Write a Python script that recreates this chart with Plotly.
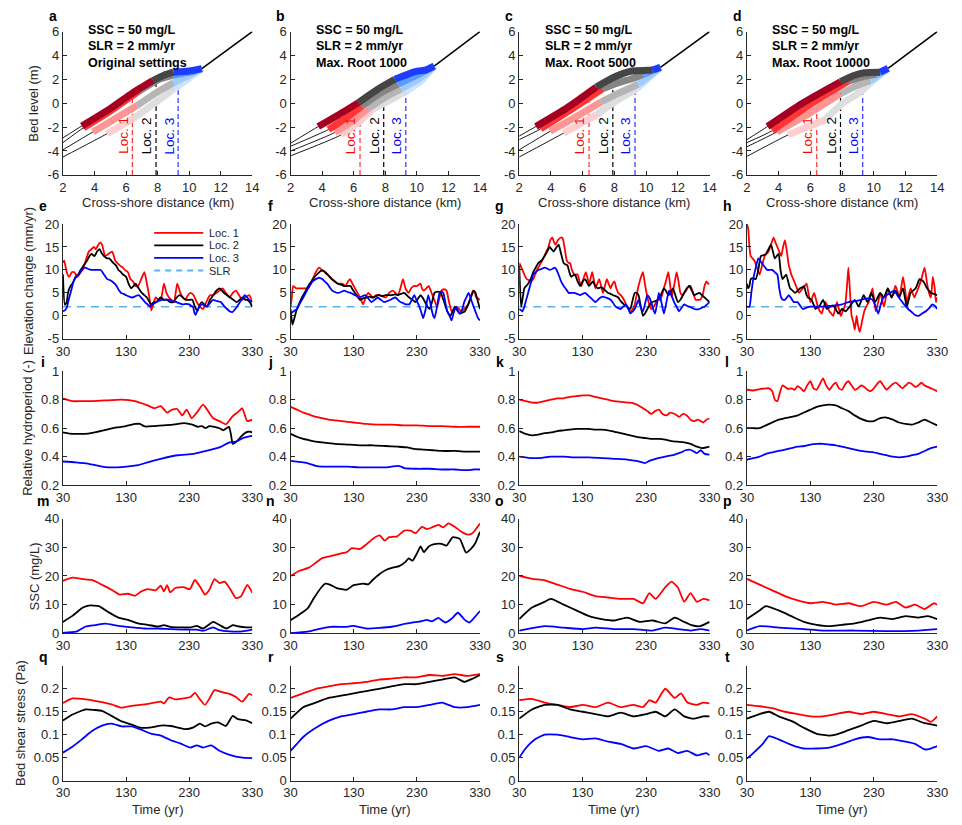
import numpy as np
import plotly.graph_objects as go

W, H = 962, 825
FONT = "Liberation Sans, Arial, sans-serif"
TXT = "#262626"
AX = "#262626"

# axis boxes in pixels (left, right) and (top, bottom)
COLS = [(57, 250), (289, 482), (522, 716), (754, 948)]
ROWS = [(25, 171), (221, 338), (371, 487), (521, 638), (671, 788)]

LETTERS = list("abcdefghijklmnopqrst")
SCENARIOS = ["Original settings", "Max. Root 1000", "Max. Root 5000", "Max. Root 10000"]
HEADER = ["SSC = 50 mg/L", "SLR = 2 mm/yr"]
LOCS = [6.4, 7.9, 9.3]
LOC_LABELS = ["Loc. 1", "Loc. 2", "Loc. 3"]
SLR = 2.0

# ---------------- bed profiles (x km, z m); profile 1 = earliest, 4 = latest
# zones: (low-marsh start, mid start, high start, end)
a_bed_1 = [(2, -4.5), (4.8, -2.55), (6.5, -1.25), (7.7, -0.1), (9.0, 1.15), (10.0, 2.1), (10.8, 2.9)]
a_bed_2 = [(2, -3.9), (3.9, -2.4), (5.3, -1.3), (6.7, -0.2), (8.0, 0.95), (9.0, 1.7), (10.0, 2.35), (10.8, 2.9)]
a_bed_3 = [(2, -3.3), (3.3, -2.05), (5.0, -0.65), (6.85, 1.05), (8.0, 1.95), (9.0, 2.35), (10.0, 2.6), (10.8, 2.9)]
a_bed_4 = [(2, -2.9), (3.2, -1.9), (5.0, -0.45), (6.4, 0.85), (7.7, 1.9), (8.4, 2.35), (9.0, 2.6), (10.0, 2.7), (10.8, 2.9)]
a_zones = [(4.8, 6.5, 9.0, 10.8), (3.9, 6.7, 9.0, 10.8), (3.3, 6.85, 9.0, 10.8), (3.2, 7.7, 9.0, 10.8)]
a_tail = [(10.8, 2.9), (14, 6)]

b_bed_1 = [(2, -4.4), (5.2, -2.65), (6.3, -1.6), (7.2, -0.5), (8.2, 0.2), (9.2, 0.9), (10.3, 1.9), (11.1, 3.1)]
b_bed_2 = [(2, -4.0), (4.8, -2.45), (5.9, -1.5), (6.9, -0.45), (8.0, 0.5), (9.0, 1.2), (10.2, 2.1), (11.1, 3.1)]
b_bed_3 = [(2, -3.6), (4.4, -2.2), (5.5, -1.25), (6.5, -0.25), (7.7, 0.85), (8.8, 1.6), (10.0, 2.35), (11.1, 3.1)]
b_bed_4 = [(2, -3.35), (3.75, -1.95), (5.0, -1.0), (6.3, 0.05), (7.5, 1.15), (8.6, 2.0), (9.9, 2.65), (10.6, 2.8), (11.1, 3.1)]
b_zones = [(5.2, 7.2, 9.2, 11.1), (4.8, 6.9, 9.0, 11.1), (4.4, 6.5, 8.8, 11.1), (3.75, 6.3, 8.6, 11.1)]
b_tail = [(11.1, 3.1), (14, 6)]

c_bed_1 = [(2, -4.5), (4.8, -2.5), (5.8, -1.75), (6.85, -1.0), (8.0, 0.1), (9.1, 0.95), (9.4, 1.2), (10.9, 3.0)]
c_bed_2 = [(2, -3.9), (3.95, -2.35), (5.5, -1.2), (7.15, 0.1), (8.2, 0.8), (9.1, 1.35), (9.5, 1.6), (10.9, 3.0)]
c_bed_3 = [(2, -3.05), (3.35, -2.15), (5.3, -0.5), (7.25, 1.2), (8.2, 1.7), (9.1, 2.05), (9.8, 2.4), (10.9, 3.0)]
c_bed_4 = [(2, -2.75), (3.05, -1.95), (5.0, -0.4), (6.85, 1.35), (8.0, 2.2), (9.1, 2.7), (10.1, 2.75), (10.4, 2.78), (10.9, 3.0)]
c_zones = [(4.8, 6.85, 9.4, 10.9), (3.95, 7.15, 9.5, 10.9), (3.35, 7.25, 9.8, 10.9), (3.05, 6.85, 10.4, 10.9)]
c_tail = [(10.9, 3.0), (14, 6)]

d_bed_1 = [(2, -4.45), (4.6, -2.65), (5.8, -2.0), (6.9, -1.4), (8.0, -0.05), (9.15, 0.95), (9.7, 1.6), (10.9, 2.92)]
d_bed_2 = [(2, -3.65), (3.9, -2.4), (6.0, -0.8), (7.9, 0.8), (8.9, 1.45), (9.8, 1.9), (10.9, 2.92)]
d_bed_3 = [(2, -3.3), (3.6, -2.3), (6.0, -0.1), (8.4, 1.85), (9.4, 2.25), (10.2, 2.45), (10.9, 2.92)]
d_bed_4 = [(2, -3.05), (3.3, -1.95), (5.5, 0.0), (7.9, 1.8), (8.7, 2.3), (9.4, 2.55), (10.4, 2.6), (10.9, 2.92)]
d_zones = [(4.6, 6.9, 9.7, 10.9), (3.9, 7.9, 9.8, 10.9), (3.6, 8.4, 10.2, 10.9), (3.3, 7.9, 10.4, 10.9)]
d_tail = [(10.9, 2.92), (14, 6)]

RED_SHADES = ["#ffcdcd", "#ff9494", "#ff3535", "#a50021"]
GRAY_SHADES = ["#dedede", "#b5b5b5", "#858585", "#454545"]
BLUE_SHADES = ["#cfe5ff", "#9fcbff", "#5a9cff", "#1e3cff"]

# ---------------- elevation change (mm/yr) : (year, value)
e_red = [(30, 11.6), (32, 12), (36, 9.5), (40, 8.5), (44, 9.5), (48, 9.5), (53, 8.5), (58, 9.5), (61, 10), (66, 12), (71, 14), (75, 14.5), (79, 15), (82, 14.5), (86, 15.5), (89, 16), (92, 15.5), (97, 13), (102, 13.5), (108, 14), (113, 12), (120, 11), (125, 10.5), (128, 10), (133, 9.5), (137, 8), (141, 7.5), (145, 6.5), (149, 6.5), (154, 8), (159, 9.5), (163, 7), (167, 4), (170, 1.2), (174, 3), (177, 4), (181, 3.5), (185, 3.5), (190, 7), (194, 5), (198, 4), (202, 3.5), (206, 3), (211, 7), (216, 5), (220, 4), (224, 3.5), (228, 4.5), (232, 5), (237, 4.5), (242, 3), (247, 2), (252, 1.5), (257, 3), (263, 4.5), (268, 4.5), (273, 5), (278, 5.5), (283, 6), (288, 5), (294, 4), (299, 5), (304, 5.5), (309, 4.5), (314, 3.5), (319, 4), (325, 4.5), (330, 3)]
e_black = [(30, 9), (33, 2.4), (36, 3), (38, 5), (42, 6.5), (45, 7), (50, 8.5), (54, 9), (58, 10), (63, 11), (68, 12), (72, 13), (75, 13.5), (80, 13), (84, 14), (88, 14.5), (92, 13.5), (95, 13), (100, 12.5), (103, 12.5), (110, 11.5), (114, 11), (118, 10), (122, 9.5), (125, 9), (130, 8.5), (134, 7), (138, 6), (142, 6.5), (145, 7), (150, 6), (155, 5), (159, 4.5), (163, 4), (167, 3), (170, 2.5), (174, 3), (178, 3), (181, 3.5), (185, 4), (190, 3.5), (195, 3.5), (200, 3), (205, 3), (210, 4), (215, 4.5), (220, 4), (225, 3.5), (230, 3.5), (235, 3.5), (239, 2), (243, 1), (247, 2.5), (250, 3), (254, 2.5), (258, 2), (263, 3.5), (268, 4.5), (273, 5.5), (278, 6), (282, 5.5), (285, 5), (290, 4.5), (295, 4), (300, 3.5), (305, 3), (310, 3.5), (315, 4), (319, 3.5), (322, 3.5), (326, 3), (330, 2)]
e_blue = [(30, 1), (33, 1.2), (36, 1.8), (40, 4), (44, 6), (47, 7.5), (51, 8.5), (55, 9), (60, 10), (65, 10.5), (70, 10.2), (75, 10), (82, 10), (90, 10), (95, 9), (100, 8), (104, 7.8), (108, 7.5), (112, 7), (115, 6.5), (119, 5.5), (122, 5), (126, 4.8), (130, 4.5), (135, 4.2), (140, 4), (145, 4.3), (150, 4.5), (155, 3.8), (160, 3), (164, 2.5), (168, 2), (173, 2.6), (178, 3), (183, 3.3), (188, 3.5), (193, 3.6), (198, 3.5), (204, 3.2), (210, 3), (215, 2.7), (220, 2.5), (225, 2.6), (230, 2.5), (233, 2.2), (236, 2), (238, 0.8), (240, 0.2), (243, 1.2), (246, 2), (250, 2.5), (254, 2.3), (258, 2), (263, 2.8), (268, 3.5), (274, 3.2), (280, 3), (285, 2.2), (290, 1.5), (294, 1), (298, 0.8), (303, 1.5), (308, 2.5), (313, 3.5), (318, 4.5), (322, 4), (325, 3.5), (330, 3)]

f_red = [(30, 2), (32, 4), (34, 6.5), (39, 6), (45, 6), (52, 6), (57, 6), (60, 6.5), (65, 8), (70, 9.5), (75, 10.5), (80, 10), (84, 9.5), (88, 9), (92, 8.5), (96, 8), (100, 7.5), (104, 7), (108, 7), (111, 7), (114, 6.8), (117, 6.5), (121, 7.5), (124, 8), (128, 7), (132, 6), (136, 5), (140, 4), (143, 3), (145, 2.5), (149, 4), (153, 5), (157, 4.5), (161, 4), (166, 4.5), (171, 4.5), (176, 4.2), (181, 4), (186, 5), (192, 5.5), (196, 5), (200, 4.5), (204, 6), (208, 8), (212, 6), (217, 5), (221, 6), (225, 6.5), (230, 6.5), (236, 7), (238, 6), (241, 5.5), (245, 6), (249, 6.5), (252, 5.5), (256, 4), (259, 3), (262, 2), (266, 4), (269, 5.5), (273, 5.8), (277, 5.5), (281, 3), (285, 1), (289, 1.5), (293, 2), (297, 1.5), (300, 1), (305, 1.5), (311, 2.5), (315, 4), (319, 5.5), (322, 5), (324, 4), (327, 3.8), (330, 3.5)]
f_black = [(30, 1.5), (31, 0), (33, -1.9), (36, -0.5), (40, 1.5), (44, 2.8), (48, 4), (53, 5.2), (58, 6.5), (63, 7.5), (68, 8.5), (73, 9.2), (78, 9.8), (82, 9.8), (85, 9.5), (90, 8.8), (95, 8), (100, 7.5), (105, 7), (110, 6.8), (115, 6.5), (120, 6.5), (125, 6.5), (128, 5.8), (132, 5), (136, 4.2), (140, 3.5), (145, 3.8), (150, 4), (155, 4.2), (160, 4), (165, 4.3), (170, 4.5), (175, 4.3), (180, 4.5), (185, 4.5), (190, 4.5), (195, 4.7), (200, 4.5), (205, 4.8), (210, 5), (214, 4.5), (218, 4), (223, 3.5), (228, 3), (232, 3.8), (236, 4.5), (240, 3.8), (243, 3), (247, 2), (250, 1.5), (254, 3), (258, 5), (263, 5.3), (268, 5), (272, 3.5), (277, 1.5), (280, 0.5), (283, 0), (287, 1), (290, 2), (294, 1.2), (298, 0.5), (302, 0.7), (306, 1), (310, 2), (313, 3), (317, 4.5), (320, 5.5), (323, 5), (325, 4), (328, 2.5), (330, 1.5)]
f_blue = [(30, 0.5), (35, 1), (40, 1.5), (45, 2.8), (50, 4), (55, 5.3), (60, 6.5), (65, 7.5), (70, 8), (75, 8.3), (80, 8), (84, 7.5), (88, 7), (92, 6.2), (96, 5.5), (100, 5.2), (105, 5), (110, 5.2), (115, 5.5), (120, 5.2), (125, 5), (128, 4.8), (132, 4.5), (136, 4.2), (140, 4), (144, 4.3), (148, 4.5), (153, 3.8), (158, 3), (163, 3.5), (168, 4), (173, 3.5), (178, 3), (183, 3.2), (188, 3.5), (192, 3.8), (196, 4), (200, 3.5), (204, 3), (208, 2.8), (212, 2.5), (215, 2.5), (218, 2.5), (222, 3.5), (226, 4.5), (230, 3.2), (234, 2), (237, 0.8), (240, -0.5), (244, 1.5), (248, 4.5), (251, 3), (254, 1), (256, 0), (258, -0.5), (262, 2), (266, 5), (269, 5.3), (272, 5), (275, 3), (278, 1), (282, 0), (285, -1), (288, 0.5), (292, 2), (295, 1.2), (298, 0.5), (302, 1.5), (305, 3), (309, 4.2), (312, 5), (316, 3.5), (320, 2), (324, 0.5), (327, -0.5), (330, -1)]

g_red = [(30, 11.5), (32, 11), (35, 10), (38, 9), (42, 8), (45, 7.8), (48, 7.5), (52, 8), (55, 9), (58, 10), (62, 11), (66, 12), (71, 13.5), (76, 15), (79, 16.5), (82, 17), (85, 16), (87, 15.5), (91, 16.5), (95, 17), (98, 17), (100, 16), (103, 13.5), (105, 12), (108, 11.5), (110, 11.5), (113, 10), (117, 9), (120, 9), (122, 9), (125, 7.5), (128, 6.5), (131, 8), (135, 9.5), (138, 8), (140, 7), (143, 8.5), (145, 9.5), (148, 7.5), (150, 6), (153, 7), (156, 8), (159, 6.5), (162, 5), (165, 6.5), (168, 8), (171, 7), (174, 6), (177, 7), (180, 7.5), (183, 6), (186, 5), (190, 4.5), (195, 3.5), (200, 2), (205, 1), (209, 1.5), (212, 2.5), (215, 4.5), (218, 6.5), (222, 8.5), (225, 9.5), (228, 7), (232, 4), (235, 2.5), (238, 1.5), (242, 2), (246, 3), (249, 3.5), (252, 3.5), (255, 4.5), (258, 6), (262, 8), (265, 9.5), (268, 6.5), (270, 4), (274, 6.5), (278, 9.5), (281, 7.5), (284, 5), (287, 4.5), (290, 5), (293, 5.5), (295, 6), (298, 6.5), (300, 6.5), (304, 5), (308, 3.5), (312, 3.5), (315, 3.5), (319, 4.5), (322, 6.5), (325, 7.5), (328, 7), (330, 7)]
g_black = [(30, 11), (31, 7), (33, 2), (35, 3.5), (38, 6), (41, 6.5), (44, 7), (48, 8), (52, 9.5), (56, 10.5), (60, 11.5), (65, 12), (70, 13), (74, 14), (78, 15), (81, 14.5), (84, 14), (88, 14.8), (92, 15.5), (96, 13.5), (100, 11.5), (103, 11.2), (106, 11), (109, 9.5), (112, 8.5), (115, 8.8), (118, 9), (122, 7.5), (126, 6.5), (130, 7.5), (134, 8), (137, 7.2), (140, 6.5), (143, 7), (146, 7.5), (150, 6.5), (154, 6), (158, 6.2), (162, 6), (166, 5.5), (170, 5), (174, 4.8), (178, 4.5), (182, 4.3), (186, 4), (190, 3.2), (195, 2.5), (200, 2), (205, 1.5), (208, 3), (212, 5), (215, 5), (218, 4.5), (221, 2.5), (225, 0), (228, 0.5), (232, 1.5), (236, 2.5), (240, 3), (244, 3.2), (248, 3.5), (253, 4.5), (258, 6), (261, 5.5), (265, 4.5), (268, 5), (272, 6), (276, 4.5), (280, 3), (284, 3.5), (288, 4.5), (290, 5), (294, 6), (298, 6.5), (302, 5.5), (306, 4.5), (310, 4.8), (314, 5), (318, 4.5), (322, 4), (326, 3.5), (330, 3)]
g_blue = [(30, 1.5), (33, 1.2), (35, 1), (38, 2), (40, 3), (43, 4.5), (46, 6), (49, 7.5), (52, 9), (56, 9.5), (60, 10), (65, 10.2), (70, 10.5), (74, 10.3), (78, 10), (82, 10.2), (86, 10.5), (89, 10), (92, 9), (96, 7.5), (100, 6.5), (104, 5.8), (108, 5), (112, 5), (116, 5), (121, 4.8), (126, 4.5), (130, 4.8), (134, 5), (138, 4.5), (142, 4), (146, 3.5), (150, 3), (154, 3.5), (158, 4), (162, 4.2), (166, 4), (170, 3.8), (174, 3.5), (178, 2.8), (182, 2), (186, 1.7), (190, 1.5), (194, 2), (198, 2.5), (202, 1.5), (205, 0.5), (209, 1), (212, 1.5), (215, 2.5), (218, 3.5), (221, 2), (225, 1), (228, 2.5), (232, 4.5), (235, 4), (238, 3), (241, 1.5), (244, 0.5), (247, 2.5), (250, 5), (254, 3), (258, 0.5), (262, 3), (266, 5.5), (270, 4.5), (274, 3), (278, 2), (282, 1), (286, 1.8), (290, 2.5), (294, 2.2), (298, 2), (302, 1.8), (306, 1.5), (310, 1.4), (314, 1.5), (318, 1.8), (322, 2), (326, 2.5), (330, 3)]

h_red = [(30, 20), (32, 19), (34, 15), (36, 13), (39, 12.5), (42, 12), (46, 10.5), (50, 9), (54, 11), (58, 13), (61, 13.5), (64, 14), (68, 15.5), (72, 17), (75, 16), (78, 15), (81, 14), (84, 13), (87, 15), (90, 16.5), (93, 14), (96, 11), (98, 10), (100, 9), (103, 8), (106, 7), (109, 6), (112, 5), (115, 5.5), (118, 6), (121, 6.5), (124, 7), (127, 5), (130, 3), (133, 4), (136, 5), (139, 3.5), (142, 2), (145, 1), (148, 0.5), (151, 2), (154, 3), (157, 2), (160, 1), (163, 0.5), (166, 0), (169, 1.5), (172, 3), (175, 1.5), (178, 0), (181, 1), (185, 2.5), (188, 7), (190, 10.5), (193, 4), (195, 0), (198, -1.5), (200, -3), (202, -1), (203, 0), (205, -2), (208, -3.5), (211, -1.5), (215, 1), (218, 2), (222, 3), (225, 4.5), (228, 6), (231, 3), (233, 1), (237, 3), (240, 5), (243, 3.5), (246, 2), (249, 4), (252, 6), (255, 5), (258, 4), (261, 5), (264, 6.5), (267, 5.5), (270, 4), (273, 6), (276, 8.5), (279, 6), (282, 3), (285, 4.5), (288, 6), (291, 5), (294, 4), (297, 5), (300, 6), (305, 8), (310, 10.5), (314, 7), (317, 5), (320, 4), (323, 8.5), (326, 6), (328, 3), (330, 4)]
h_black = [(30, 7), (32, 6), (34, 6.5), (36, 8), (40, 8.2), (44, 8), (48, 10), (52, 13), (56, 13.2), (60, 13.5), (64, 14.5), (68, 15.5), (71, 14), (74, 12.5), (77, 13), (80, 13.5), (83, 10), (86, 8), (89, 8.5), (92, 9), (95, 7.5), (98, 6), (102, 5.5), (106, 5), (110, 5.5), (114, 6), (117, 6.2), (120, 6.5), (123, 5), (126, 4), (129, 3.8), (132, 3.5), (135, 2.5), (138, 1.5), (141, 1.8), (144, 2), (147, 2.8), (150, 3.5), (153, 2.5), (156, 1.5), (159, 1.8), (162, 2), (165, 2.2), (168, 2), (171, 1.2), (174, 0.5), (177, 1), (180, 1.5), (183, 1.2), (186, 1), (189, 1.5), (192, 2), (196, 2.8), (200, 3.5), (203, 2.8), (206, 2), (210, 3.2), (214, 4.5), (217, 3.8), (220, 3), (223, 4), (226, 5), (229, 4), (232, 3), (236, 4), (240, 5), (243, 4.5), (246, 4), (249, 5), (252, 6), (255, 5), (258, 4), (261, 4.8), (264, 5.5), (267, 4.8), (270, 4), (273, 5), (276, 6), (279, 4), (282, 2), (285, 3.5), (288, 5), (292, 5.5), (296, 6), (299, 7), (302, 8), (305, 7.8), (308, 7.5), (311, 6.8), (314, 6), (317, 5.5), (320, 5), (325, 4.8), (330, 4.5)]
h_blue = [(30, 2), (34, 2), (37, 5), (40, 8), (44, 10.5), (48, 12.5), (52, 11.8), (56, 11), (59, 10.5), (62, 10), (66, 10), (70, 10), (74, 9.5), (78, 9), (81, 6), (84, 4), (87, 3.5), (90, 3.5), (93, 4), (96, 4.5), (100, 3.8), (104, 3), (110, 3), (114, 2.2), (118, 1.5), (124, 1.8), (130, 2), (140, 2), (150, 2), (160, 2.2), (170, 2.3), (180, 2.5), (190, 3), (200, 3.2), (210, 3.5), (220, 3.8), (228, 3.5), (233, 2), (237, 0.5), (241, 2.5), (245, 4), (250, 4.5), (256, 5), (262, 5.5), (267, 4.5), (272, 3.5), (278, 2.5), (284, 1.5), (290, 0.8), (295, 0.2), (300, 0), (306, 0.5), (312, 1), (318, 1.8), (322, 2.5), (326, 2.2), (330, 1.5)]

# ---------------- relative hydroperiod (-)
i_red = [(30, 0.81), (45, 0.79), (60, 0.79), (76, 0.79), (97, 0.795), (123, 0.8), (144, 0.79), (164, 0.76), (175, 0.74), (185, 0.755), (195, 0.71), (203, 0.73), (211, 0.735), (219, 0.69), (226, 0.73), (234, 0.67), (242, 0.71), (252, 0.765), (260, 0.72), (268, 0.67), (278, 0.65), (288, 0.627), (299, 0.685), (309, 0.72), (314, 0.74), (322, 0.65), (330, 0.66)]
i_black = [(30, 0.57), (40, 0.562), (55, 0.56), (70, 0.562), (85, 0.575), (100, 0.59), (115, 0.605), (130, 0.615), (145, 0.63), (152, 0.63), (160, 0.612), (175, 0.615), (190, 0.62), (205, 0.625), (222, 0.635), (235, 0.625), (244, 0.61), (250, 0.615), (256, 0.6), (262, 0.615), (270, 0.61), (278, 0.6), (284, 0.585), (289, 0.6), (293, 0.61), (296, 0.56), (299, 0.49), (303, 0.5), (308, 0.52), (313, 0.545), (318, 0.565), (323, 0.575), (327, 0.575), (330, 0.57)]
i_blue = [(30, 0.366), (50, 0.36), (71, 0.35), (97, 0.327), (123, 0.327), (149, 0.34), (164, 0.36), (185, 0.385), (211, 0.41), (237, 0.42), (257, 0.44), (278, 0.465), (294, 0.5), (304, 0.505), (317, 0.534), (330, 0.546)]

j_red = [(30, 0.75), (40, 0.73), (50, 0.71), (60, 0.695), (70, 0.68), (80, 0.67), (90, 0.66), (100, 0.655), (110, 0.65), (120, 0.645), (130, 0.64), (140, 0.635), (150, 0.63), (170, 0.625), (190, 0.625), (210, 0.62), (230, 0.62), (250, 0.615), (270, 0.615), (290, 0.61), (310, 0.61), (330, 0.61)]
j_black = [(30, 0.56), (40, 0.54), (50, 0.525), (60, 0.515), (70, 0.505), (80, 0.5), (100, 0.49), (120, 0.485), (140, 0.48), (160, 0.48), (180, 0.475), (200, 0.47), (215, 0.465), (225, 0.455), (240, 0.45), (255, 0.445), (270, 0.44), (290, 0.44), (310, 0.435), (330, 0.435)]
j_blue = [(30, 0.37), (40, 0.365), (50, 0.36), (60, 0.35), (70, 0.335), (80, 0.33), (100, 0.33), (120, 0.33), (140, 0.325), (160, 0.325), (180, 0.325), (190, 0.33), (200, 0.335), (205, 0.33), (210, 0.32), (230, 0.315), (250, 0.315), (270, 0.31), (290, 0.31), (310, 0.305), (320, 0.31), (330, 0.31)]

k_red = [(30, 0.8), (40, 0.79), (50, 0.78), (60, 0.78), (70, 0.79), (80, 0.8), (90, 0.81), (100, 0.81), (110, 0.82), (120, 0.825), (130, 0.83), (140, 0.83), (150, 0.82), (160, 0.81), (170, 0.8), (180, 0.79), (190, 0.785), (200, 0.78), (210, 0.775), (218, 0.76), (225, 0.74), (232, 0.72), (238, 0.7), (244, 0.72), (250, 0.73), (256, 0.7), (262, 0.69), (268, 0.71), (275, 0.7), (282, 0.68), (288, 0.7), (294, 0.69), (300, 0.66), (306, 0.65), (312, 0.66), (320, 0.64), (325, 0.66), (330, 0.67)]
k_black = [(30, 0.58), (40, 0.56), (50, 0.55), (60, 0.555), (70, 0.565), (80, 0.57), (90, 0.58), (100, 0.585), (110, 0.59), (120, 0.595), (130, 0.595), (140, 0.595), (150, 0.59), (160, 0.59), (170, 0.585), (180, 0.575), (190, 0.565), (200, 0.555), (210, 0.545), (220, 0.535), (230, 0.53), (240, 0.525), (250, 0.525), (260, 0.52), (270, 0.51), (280, 0.505), (290, 0.5), (300, 0.49), (310, 0.47), (318, 0.46), (325, 0.465), (330, 0.47)]
k_blue = [(30, 0.4), (40, 0.395), (50, 0.39), (60, 0.39), (70, 0.395), (80, 0.4), (100, 0.4), (120, 0.395), (140, 0.395), (160, 0.39), (180, 0.385), (200, 0.38), (215, 0.37), (228, 0.355), (235, 0.37), (245, 0.385), (255, 0.395), (265, 0.405), (275, 0.415), (285, 0.43), (292, 0.445), (298, 0.45), (304, 0.44), (310, 0.425), (316, 0.445), (322, 0.42), (330, 0.415)]

l_red = [(30, 0.87), (40, 0.865), (50, 0.875), (60, 0.88), (65, 0.88), (70, 0.86), (74, 0.8), (78, 0.79), (82, 0.85), (86, 0.9), (90, 0.89), (95, 0.875), (100, 0.88), (105, 0.87), (110, 0.895), (115, 0.88), (120, 0.86), (125, 0.9), (130, 0.93), (135, 0.88), (140, 0.87), (145, 0.91), (150, 0.95), (155, 0.9), (160, 0.87), (165, 0.9), (170, 0.92), (175, 0.88), (180, 0.87), (185, 0.91), (190, 0.93), (195, 0.9), (200, 0.87), (205, 0.88), (210, 0.9), (215, 0.89), (220, 0.87), (225, 0.86), (230, 0.88), (235, 0.91), (240, 0.93), (245, 0.9), (250, 0.87), (255, 0.89), (260, 0.91), (265, 0.92), (270, 0.9), (275, 0.88), (280, 0.9), (285, 0.92), (290, 0.91), (295, 0.89), (300, 0.9), (305, 0.92), (310, 0.9), (315, 0.89), (320, 0.88), (325, 0.87), (330, 0.86)]
l_black = [(30, 0.6), (40, 0.6), (50, 0.6), (60, 0.62), (70, 0.64), (80, 0.66), (90, 0.67), (100, 0.68), (110, 0.69), (120, 0.71), (130, 0.73), (140, 0.75), (150, 0.76), (160, 0.765), (170, 0.76), (180, 0.74), (190, 0.72), (200, 0.69), (210, 0.665), (220, 0.65), (230, 0.65), (240, 0.67), (250, 0.675), (260, 0.66), (270, 0.64), (280, 0.63), (290, 0.625), (300, 0.64), (310, 0.66), (320, 0.64), (330, 0.62)]
l_blue = [(30, 0.38), (40, 0.39), (50, 0.4), (60, 0.42), (70, 0.43), (80, 0.44), (90, 0.45), (100, 0.46), (110, 0.47), (120, 0.475), (130, 0.485), (140, 0.49), (150, 0.49), (160, 0.485), (170, 0.48), (180, 0.47), (190, 0.46), (200, 0.45), (210, 0.44), (220, 0.435), (230, 0.43), (240, 0.42), (250, 0.41), (260, 0.4), (270, 0.395), (280, 0.4), (290, 0.41), (300, 0.42), (310, 0.44), (320, 0.46), (330, 0.47)]

# ---------------- SSC (mg/L)
m_red = [(30, 18.3), (45, 19.4), (61, 18.9), (76, 18.6), (92, 16.9), (107, 15.2), (120, 13.5), (133, 13.8), (144, 13.1), (154, 14.6), (164, 15.4), (177, 15), (185, 16.6), (190, 14.6), (195, 16.8), (200, 14.3), (208, 15.8), (221, 16.1), (231, 15.4), (239, 18.6), (247, 16.3), (255, 13.5), (262, 15.2), (270, 18.9), (278, 17.5), (286, 18), (294, 15.8), (304, 12.3), (312, 12.9), (322, 16.9), (330, 14.1)]
m_black = [(30, 4), (45, 6.1), (61, 8.9), (71, 9.7), (87, 9.5), (102, 7.4), (118, 5.5), (133, 4.7), (149, 3.5), (164, 3), (180, 2.4), (190, 2.9), (200, 2.3), (216, 2.1), (232, 2.1), (242, 2.6), (252, 1.7), (268, 4), (278, 2.9), (289, 1.7), (299, 2.9), (309, 2.4), (320, 2.1), (330, 2.1)]
m_blue = [(30, 0.2), (51, 0.6), (66, 2.4), (82, 2.9), (97, 3.4), (118, 2.6), (139, 2.1), (159, 1.7), (180, 1.7), (200, 1.5), (221, 1.3), (242, 1.3), (252, 0.9), (268, 2.1), (278, 1.1), (294, 0.7), (314, 0.7), (330, 1.3)]

n_red = [(30, 20), (44, 21.8), (59, 22.9), (70, 24.6), (80, 26.2), (93, 26.9), (109, 27.8), (119, 28.3), (127, 29.7), (140, 29.4), (150, 31), (160, 32.9), (171, 34.1), (179, 32.3), (186, 33.5), (199, 33.8), (210, 35.8), (220, 35.8), (228, 34.9), (238, 37.1), (246, 36.3), (254, 36.9), (264, 37.8), (272, 36.9), (280, 38.3), (290, 37.1), (300, 35.5), (311, 34.4), (318, 34.9), (330, 38.3)]
n_black = [(30, 4.6), (44, 6.6), (57, 8.7), (67, 12.3), (78, 15.8), (85, 17.3), (93, 16.9), (103, 15.8), (119, 15.2), (129, 16.7), (145, 17.3), (153, 17.1), (160, 18.6), (171, 20.7), (181, 22.1), (192, 22.9), (202, 23.4), (212, 24.9), (217, 26.1), (223, 25.3), (230, 27.8), (236, 30.3), (241, 28.3), (249, 30.3), (256, 31), (269, 31.2), (277, 30.6), (287, 33.5), (298, 32.9), (308, 28.1), (316, 29.5), (322, 31.2), (330, 35.4)]
n_blue = [(30, 0.1), (57, 0.6), (78, 1.7), (93, 2.3), (119, 2.3), (129, 2.6), (150, 1.7), (171, 1.9), (192, 2.4), (212, 3.4), (223, 3.8), (238, 4.3), (246, 4.7), (254, 4.2), (264, 5.4), (275, 3.8), (285, 5.1), (295, 7.2), (306, 4.7), (313, 3.8), (321, 5.5), (330, 7.8)]

o_red = [(30, 20), (50, 19), (70, 18.5), (90, 17), (110, 15.5), (130, 14.5), (150, 13), (170, 12.5), (190, 12), (210, 12), (225, 10.5), (235, 14), (245, 12), (260, 16), (270, 18), (280, 16), (290, 11), (300, 14), (310, 11), (320, 12), (330, 11.5)]
o_black = [(30, 5), (50, 9), (70, 11), (80, 12), (100, 10), (120, 8), (140, 6), (160, 5), (180, 4.5), (200, 5.5), (220, 4), (240, 4.5), (260, 3.5), (275, 5.5), (290, 4), (300, 3), (315, 2.5), (330, 4)]
o_blue = [(30, 1), (50, 1.8), (70, 2.5), (100, 2), (130, 1.5), (150, 2), (180, 1.5), (210, 1.5), (240, 1), (260, 2), (280, 1.5), (300, 1), (315, 1.5), (330, 1)]

p_red = [(30, 19), (50, 17), (70, 15), (90, 13), (110, 11.5), (130, 10.5), (150, 11), (170, 10), (190, 10.5), (210, 9.5), (230, 11), (250, 10), (265, 11), (280, 9), (295, 10), (310, 8.5), (325, 10.5), (330, 10)]
p_black = [(30, 5), (50, 8), (60, 9.5), (80, 8), (100, 6), (120, 4), (140, 3), (160, 2.5), (180, 3), (200, 3.5), (220, 4.5), (240, 5.5), (260, 5), (280, 6), (300, 5.5), (315, 6), (330, 5)]
p_blue = [(30, 1), (50, 2.5), (80, 2), (120, 1.5), (150, 1), (200, 1), (250, 0.8), (300, 1), (330, 1.5)]

# ---------------- bed shear stress (Pa)
q_red = [(30, 0.169), (45, 0.179), (66, 0.177), (87, 0.172), (107, 0.166), (123, 0.159), (139, 0.163), (159, 0.166), (175, 0.17), (185, 0.172), (190, 0.168), (198, 0.181), (208, 0.177), (221, 0.179), (232, 0.182), (239, 0.191), (247, 0.177), (255, 0.165), (263, 0.181), (270, 0.197), (281, 0.193), (294, 0.189), (304, 0.182), (314, 0.172), (325, 0.189), (330, 0.186)]
q_black = [(30, 0.131), (45, 0.144), (66, 0.155), (79, 0.154), (92, 0.152), (107, 0.141), (123, 0.129), (139, 0.122), (154, 0.115), (170, 0.116), (185, 0.12), (201, 0.119), (211, 0.116), (224, 0.112), (237, 0.116), (247, 0.124), (255, 0.118), (265, 0.124), (276, 0.127), (288, 0.119), (299, 0.141), (307, 0.134), (320, 0.131), (330, 0.125)]
q_blue = [(30, 0.061), (45, 0.074), (61, 0.091), (76, 0.108), (92, 0.12), (107, 0.124), (123, 0.118), (139, 0.118), (154, 0.111), (170, 0.102), (185, 0.098), (201, 0.088), (216, 0.081), (232, 0.072), (242, 0.077), (252, 0.072), (265, 0.077), (278, 0.065), (294, 0.056), (314, 0.05), (330, 0.049)]

r_red = [(30, 0.18), (50, 0.19), (70, 0.2), (90, 0.205), (110, 0.21), (130, 0.212), (150, 0.215), (170, 0.22), (190, 0.222), (210, 0.225), (230, 0.225), (250, 0.23), (270, 0.228), (290, 0.232), (310, 0.228), (330, 0.232)]
r_black = [(30, 0.135), (50, 0.16), (70, 0.17), (90, 0.18), (110, 0.185), (130, 0.19), (150, 0.195), (170, 0.2), (190, 0.205), (210, 0.21), (230, 0.21), (250, 0.215), (270, 0.22), (290, 0.225), (305, 0.215), (315, 0.22), (330, 0.23)]
r_blue = [(30, 0.065), (40, 0.08), (50, 0.095), (70, 0.115), (90, 0.13), (110, 0.14), (130, 0.145), (150, 0.15), (170, 0.155), (190, 0.155), (210, 0.16), (230, 0.16), (250, 0.165), (270, 0.17), (290, 0.16), (310, 0.16), (330, 0.165)]

s_red = [(30, 0.175), (50, 0.178), (70, 0.17), (90, 0.165), (110, 0.16), (130, 0.165), (150, 0.16), (170, 0.17), (190, 0.16), (210, 0.165), (225, 0.16), (235, 0.175), (245, 0.17), (260, 0.2), (275, 0.18), (285, 0.19), (295, 0.17), (310, 0.165), (320, 0.17), (330, 0.168)]
s_black = [(30, 0.135), (50, 0.155), (70, 0.165), (90, 0.165), (110, 0.155), (130, 0.15), (150, 0.145), (170, 0.14), (190, 0.148), (210, 0.14), (230, 0.145), (245, 0.15), (260, 0.14), (275, 0.155), (290, 0.14), (305, 0.135), (320, 0.14), (330, 0.14)]
s_blue = [(30, 0.05), (40, 0.07), (55, 0.09), (70, 0.1), (90, 0.1), (110, 0.095), (130, 0.09), (150, 0.092), (170, 0.085), (190, 0.08), (210, 0.07), (230, 0.075), (250, 0.065), (265, 0.07), (280, 0.06), (295, 0.065), (310, 0.055), (325, 0.06), (330, 0.055)]

t_red = [(30, 0.165), (50, 0.162), (70, 0.158), (90, 0.15), (110, 0.145), (130, 0.14), (150, 0.14), (170, 0.145), (190, 0.15), (210, 0.145), (230, 0.15), (250, 0.145), (270, 0.14), (290, 0.145), (310, 0.135), (320, 0.128), (330, 0.14)]
t_black = [(30, 0.135), (50, 0.145), (65, 0.15), (80, 0.14), (100, 0.13), (120, 0.115), (140, 0.102), (160, 0.098), (170, 0.1), (190, 0.11), (210, 0.12), (230, 0.13), (250, 0.125), (270, 0.13), (290, 0.135), (310, 0.125), (330, 0.12)]
t_blue = [(30, 0.048), (40, 0.06), (55, 0.08), (65, 0.097), (80, 0.09), (100, 0.078), (120, 0.07), (140, 0.07), (160, 0.072), (180, 0.08), (200, 0.09), (220, 0.095), (240, 0.09), (260, 0.09), (280, 0.085), (295, 0.08), (310, 0.068), (320, 0.07), (330, 0.075)]

SERIES_ROWS = [
    [(e_red, e_black, e_blue), (f_red, f_black, f_blue), (g_red, g_black, g_blue), (h_red, h_black, h_blue)],
    [(i_red, i_black, i_blue), (j_red, j_black, j_blue), (k_red, k_black, k_blue), (l_red, l_black, l_blue)],
    [(m_red, m_black, m_blue), (n_red, n_black, n_blue), (o_red, o_black, o_blue), (p_red, p_black, p_blue)],
    [(q_red, q_black, q_blue), (r_red, r_black, r_blue), (s_red, s_black, s_blue), (t_red, t_black, t_blue)],
]
BED_PANELS = [
    ([a_bed_1, a_bed_2, a_bed_3, a_bed_4], a_zones, a_tail),
    ([b_bed_1, b_bed_2, b_bed_3, b_bed_4], b_zones, b_tail),
    ([c_bed_1, c_bed_2, c_bed_3, c_bed_4], c_zones, c_tail),
    ([d_bed_1, d_bed_2, d_bed_3, d_bed_4], d_zones, d_tail),
]
LOC_COLORS = ["#ff0000", "#000000", "#0000ff"]
DASH_COLORS = ["#ff3030", "#000000", "#3030ff"]
SLR_COLOR = "#5ab0ee"

Y_TITLES = ["Bed level (m)", "Elevation change (mm/yr)", "Relative hydroperiod (-)", "SSC (mg/L)", "Bed shear stress (Pa)"]
Y_TITLE_X = [27, 22, 21, 29, 13]
Y_RANGES = [[-6, 6], [-5, 20], [0.2, 1], [0, 40], [0, 0.25]]
Y_TICKS = [[-6, -4, -2, 0, 2, 4, 6], [-5, 0, 5, 10, 15, 20], [0.2, 0.4, 0.6, 0.8, 1], [0, 10, 20, 30, 40], [0, 0.05, 0.1, 0.15, 0.2]]
Y_TICKTEXT = [["-6", "-4", "-2", "0", "2", "4", "6"], ["-5", "0", "5", "10", "15", "20"], ["0.2", "0.4", "0.6", "0.8", "1"], ["0", "10", "20", "30", "40"], ["0", "0.05", "0.1", "0.15", "0.2"]]
X_TICKS_BED = [2, 4, 6, 8, 10, 12, 14]
X_TICKS_TIME = [30, 130, 230, 330]


def aid(r, c):
    return r * 4 + c + 1


def axref(n, kind):
    return kind if n == 1 else f"{kind}{n}"


def pts(p):
    return [v[0] for v in p], [v[1] for v in p]


fig = go.Figure()
layout_axes = {}
for r in range(5):
    for c in range(4):
        n = aid(r, c)
        x0, x1 = COLS[c]
        y0, y1 = ROWS[r]
        common = dict(showline=True, linecolor=AX, linewidth=1.3, ticks="inside", ticklen=4,
                      tickcolor=AX, tickwidth=1, showgrid=False, zeroline=False,
                      tickfont=dict(family=FONT, size=13, color=TXT), fixedrange=True)
        if r == 0:
            xr, xt = [2, 14], X_TICKS_BED
        else:
            xr, xt = [30, 330], X_TICKS_TIME
        layout_axes["xaxis" if n == 1 else f"xaxis{n}"] = dict(
            domain=[x0 / W, x1 / W], anchor=axref(n, "y"), range=xr, tickvals=xt,
            ticktext=[str(v) for v in xt], **common)
        layout_axes["yaxis" if n == 1 else f"yaxis{n}"] = dict(
            domain=[1 - y1 / H, 1 - y0 / H], anchor=axref(n, "x"), range=Y_RANGES[r],
            tickvals=Y_TICKS[r], ticktext=Y_TICKTEXT[r], **common)

annotations = []


def ann(px, py, text, size=13, color=TXT, bold=False, angle=0, xanchor="center", yanchor="middle"):
    annotations.append(dict(
        x=px / W, y=1 - py / H, xref="paper", yref="paper", text=f"<b>{text}</b>" if bold else text,
        showarrow=False, textangle=angle, xanchor=xanchor, yanchor=yanchor, align="left",
        font=dict(family=FONT, size=size, color=color)))


# ---------------- row 1: bed profiles
for c, (profiles, zones, tail) in enumerate(BED_PANELS):
    n = aid(0, c)
    xa, ya = axref(n, "x"), axref(n, "y")
    for prof in profiles:
        x, y = pts(prof)
        fig.add_trace(go.Scatter(x=x, y=y, xaxis=xa, yaxis=ya, mode="lines", showlegend=False,
                                 line=dict(color="#000000", width=0.9, shape="spline", smoothing=0.6),
                                 hoverinfo="skip"))
    tx, ty = pts(tail)
    fig.add_trace(go.Scatter(x=tx, y=ty, xaxis=xa, yaxis=ya, mode="lines", showlegend=False,
                             line=dict(color="#000000", width=1.5), hoverinfo="skip"))
    latest_x, latest_y = pts(profiles[-1])
    for k, lx in enumerate(LOCS):
        top = float(np.interp(lx, latest_x, latest_y))
        fig.add_trace(go.Scatter(x=[lx, lx], y=[-6, top], xaxis=xa, yaxis=ya, mode="lines",
                                 showlegend=False, hoverinfo="skip",
                                 line=dict(color=DASH_COLORS[k], width=1.2, dash="5px,3px")))
    for k, prof in enumerate(profiles):
        z0, z1, z2, z3 = zones[k]
        for (lo, hi), shade in zip([(z0, z1), (z1, z2), (z2, z3)],
                                   [RED_SHADES[k], GRAY_SHADES[k], BLUE_SHADES[k]]):
            seg = [p for p in prof if lo - 1e-9 <= p[0] <= hi + 1e-9]
            sx, sy = pts(seg)
            fig.add_trace(go.Scatter(x=sx, y=sy, xaxis=xa, yaxis=ya, mode="lines", showlegend=False,
                                     hoverinfo="skip",
                                     line=dict(color=shade, width=7, shape="spline", smoothing=0.6)))
    # header text (one block)
    header = "<br>".join(f"<b>{t}</b>" for t in HEADER + [SCENARIOS[c]])
    ann(COLS[c][0] + 24, 14, header, size=12.5, color="#000000", xanchor="left", yanchor="top")
    # location labels
    for k, lx in enumerate(LOCS):
        annotations.append(dict(x=lx - 0.58, y=-2.7, xref=xa, yref=ya, text=LOC_LABELS[k],
                                showarrow=False, textangle=-90, xanchor="center", yanchor="middle",
                                font=dict(family=FONT, size=13.5, color=LOC_COLORS[k])))
    ann((COLS[c][0] + COLS[c][1]) / 2, 199, "Cross-shore distance (km)", size=13)

# ---------------- rows 2-5: time series
for r, row in enumerate(SERIES_ROWS, start=1):
    for c, triple in enumerate(row):
        n = aid(r, c)
        xa, ya = axref(n, "x"), axref(n, "y")
        if r == 1:
            fig.add_trace(go.Scatter(x=[30, 330], y=[SLR, SLR], xaxis=xa, yaxis=ya, mode="lines",
                                     showlegend=False, hoverinfo="skip",
                                     line=dict(color=SLR_COLOR, width=1.6, dash="8px,6px")))
        for series, col in zip(triple, ["#ff0000", "#000000", "#0000ff"]):
            x, y = pts(series)
            fig.add_trace(go.Scatter(x=x, y=y, xaxis=xa, yaxis=ya, mode="lines", showlegend=False,
                                     hoverinfo="skip",
                                     line=dict(color=col, width=1.8, shape="spline", smoothing=0.5)))

for c in range(4):
    ann((COLS[c][0] + COLS[c][1]) / 2, 817, "Time (yr)", size=13)

# legend drawn inside panel e
shapes = []
LEG_ITEMS = [("Loc. 1", "#ff0000", "solid"), ("Loc. 2", "#000000", "solid"),
             ("Loc. 3", "#0000ff", "solid"), ("SLR", SLR_COLOR, "dash")]
for j, (lab, col, dash) in enumerate(LEG_ITEMS):
    py = 230 + 12.8 * j
    shapes.append(dict(type="line", xref="paper", yref="paper", x0=150 / W, x1=200 / W,
                       y0=1 - py / H, y1=1 - py / H,
                       line=dict(color=col, width=1.8, dash="6px,5px" if dash == "dash" else "solid")))
    ann(204, py, lab, size=11, xanchor="left")

# panel letters and y titles
LETTER_Y = [9, 203, 362, 503, 662]
for r in range(5):
    for c in range(4):
        off = 10 if r == 0 else 20
        ann(COLS[c][0] - off, LETTER_Y[r], LETTERS[aid(r, c) - 1], size=14, color="#000000", bold=True)
    ann(Y_TITLE_X[r], (ROWS[r][0] + ROWS[r][1]) / 2, Y_TITLES[r], size=13, angle=-90)

fig.update_layout(width=W, height=H, margin=dict(l=0, r=0, t=0, b=0), plot_bgcolor="white",
                  paper_bgcolor="white", annotations=annotations, shapes=shapes, showlegend=False,
                  **layout_axes)
fig.write_html("out.html")
